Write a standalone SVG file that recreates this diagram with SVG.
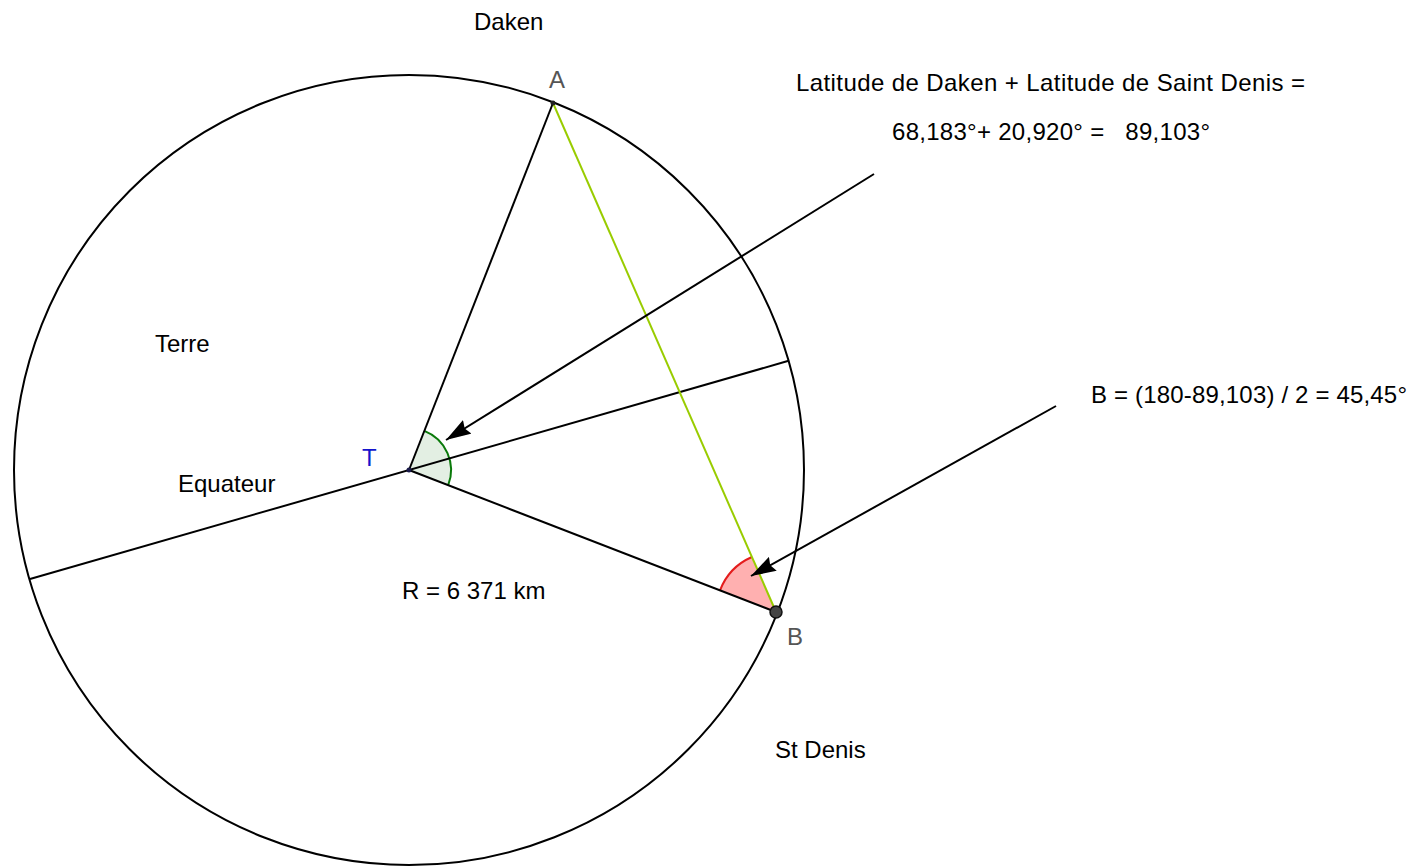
<svg xmlns="http://www.w3.org/2000/svg" width="1416" height="868" viewBox="0 0 1416 868">
<style>
text{font-family:"Liberation Sans",Arial,sans-serif;font-size:24px;fill:#000}
.pl{fill:#555}
.ln{stroke:#000;stroke-width:2;fill:none}
</style>
<defs>
<marker id="ah" markerUnits="userSpaceOnUse" viewBox="0 0 25 16" refX="25" refY="8" markerWidth="25" markerHeight="16" orient="auto">
<path d="M0,0 L25,8 L0,16 L3,8 z" fill="#000"/>
</marker>
</defs>
<rect width="1416" height="868" fill="#fff"/>
<g id="terre">
<circle cx="409" cy="470" r="395" class="ln"/>
</g>
<g id="angle-T">
<path d="M409,470 L424.3,430.9 A42,42 0 0 1 448.2,485.2 Z" fill="#e3efe3"/>
<path d="M424.3,430.9 A42,42 0 0 1 448.2,485.2" fill="none" stroke="#0a7a0a" stroke-width="2"/>
</g>
<g id="angle-B">
<path d="M776,612 L720,590.3 A60,60 0 0 1 751.9,557 Z" fill="#ffb0b0"/>
<path d="M720,590.3 A60,60 0 0 1 751.9,557" fill="none" stroke="#e41c1c" stroke-width="2"/>
</g>
<g id="connectors">
<line x1="30" y1="579" x2="788.6" y2="360.8" class="ln"/>
<line x1="409" y1="470" x2="553" y2="103" class="ln"/>
<line x1="409" y1="470" x2="776" y2="612" class="ln"/>
<line x1="553" y1="103" x2="776" y2="612" stroke="#99cc00" stroke-width="2"/>
<line x1="874" y1="174" x2="446" y2="440" class="ln" marker-end="url(#ah)"/>
<line x1="1056" y1="406" x2="751" y2="576" class="ln" marker-end="url(#ah)"/>
</g>
<g id="point-T">
<circle cx="409" cy="470" r="2.5" fill="#1a1a4a"/>
<text x="362" y="466" style="fill:#1414cc">T</text>
</g>
<g id="point-A">
<circle cx="553" cy="103" r="2.5" fill="#222"/>
<text x="549" y="88" class="pl">A</text>
</g>
<g id="point-B">
<circle cx="776" cy="612" r="6" fill="#444" stroke="#111" stroke-width="1.5"/>
<text x="787" y="645" class="pl">B</text>
</g>
<g id="labels">
<text x="474" y="30">Daken</text>
<text x="155" y="352">Terre</text>
<text x="178" y="492">Equateur</text>
<text x="402" y="599">R = 6 371 km</text>
<text x="775" y="758">St Denis</text>
<text x="796" y="91" textLength="509" lengthAdjust="spacing">Latitude de Daken + Latitude de Saint Denis =</text>
<text x="892" y="140" xml:space="preserve" textLength="318" lengthAdjust="spacing">68,183°+ 20,920° =   89,103°</text>
<text x="1091" y="403" textLength="316" lengthAdjust="spacing">B = (180-89,103) / 2 = 45,45°</text>
</g>
</svg>
